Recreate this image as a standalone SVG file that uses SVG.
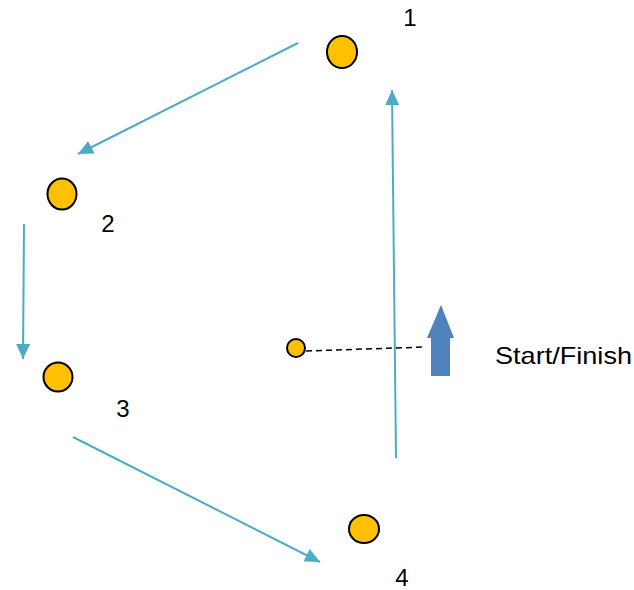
<svg xmlns="http://www.w3.org/2000/svg" width="634" height="590" viewBox="0 0 634 590">
<style>
.node{fill:#FFC000;stroke:#000;stroke-width:2}
.edge{stroke:#4BACC6;stroke-width:2;fill:none}
.lbl{font-family:"Liberation Sans",Arial,sans-serif;font-size:24px;fill:#000;text-anchor:middle}
</style>
<defs>
<marker id="ah" markerUnits="userSpaceOnUse" markerWidth="16" markerHeight="14" refX="15" refY="7" orient="auto">
<path d="M0,0 L15,7 L0,14 Z" fill="#4BACC6"/>
</marker>
</defs>
<rect width="634" height="590" fill="#fff"/>
<g id="connectors">
<line class="edge" x1="298" y1="43" x2="78" y2="154" marker-end="url(#ah)"/>
<line class="edge" x1="24" y1="224" x2="23" y2="359" marker-end="url(#ah)"/>
<line class="edge" x1="73" y1="437" x2="320" y2="562" marker-end="url(#ah)"/>
<line class="edge" x1="396" y1="458" x2="392" y2="90" marker-end="url(#ah)"/>
<line x1="306" y1="351" x2="425" y2="347" stroke="#000" stroke-width="1.5" stroke-dasharray="6,4"/>
</g>
<g id="node1"><ellipse class="node" cx="342" cy="52" rx="15" ry="16"/><text class="lbl" x="410" y="26">1</text></g>
<g id="node2"><ellipse class="node" cx="62" cy="194" rx="14.5" ry="15.5"/><text class="lbl" x="108" y="232">2</text></g>
<g id="node3"><ellipse class="node" cx="58" cy="377" rx="14.5" ry="14.5"/><text class="lbl" x="123" y="417">3</text></g>
<g id="node4"><ellipse class="node" cx="364" cy="529" rx="15" ry="14"/><text class="lbl" x="402" y="586">4</text></g>
<g id="start"><circle class="node" cx="296" cy="348" r="9" stroke-width="1.5"/></g>
<g id="startArrow">
<path d="M431,376 L431,338 L427,338 L441,305 L454,338 L450,338 L450,376 Z" fill="#4F81BD"/>
<text x="495" y="364" font-family="Liberation Sans,Arial,sans-serif" font-size="24" textLength="137" lengthAdjust="spacingAndGlyphs">Start/Finish</text>
</g>
</svg>
